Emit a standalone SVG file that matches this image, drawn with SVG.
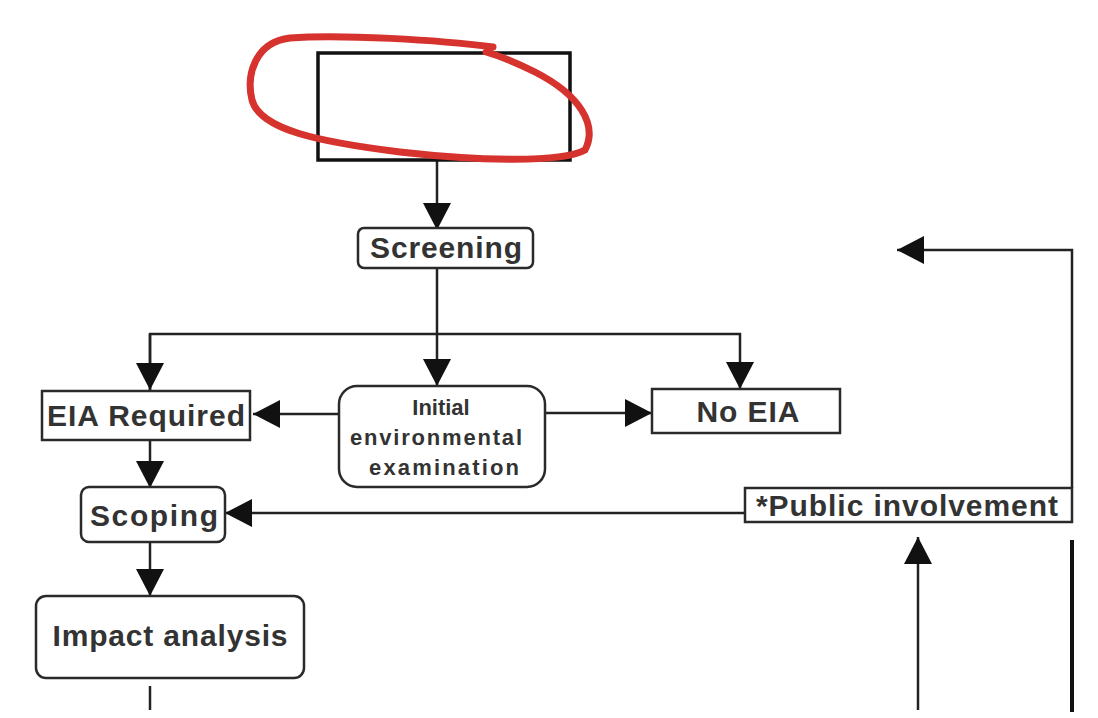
<svg xmlns="http://www.w3.org/2000/svg" width="1098" height="718" viewBox="0 0 1098 718">
<style>
.box{fill:#fff;stroke:#2a2a2a;stroke-width:2.5}
.lbl{font-family:"Liberation Sans",Arial,sans-serif;font-weight:bold;fill:#333;text-anchor:middle}
.big{font-size:30px}
.sm{font-size:22px}
.ln{fill:none;stroke:#222;stroke-width:2.5}
</style>
<defs>
<marker id="ah" markerUnits="userSpaceOnUse" markerWidth="30" markerHeight="30" refX="27" refY="14" orient="auto">
<path d="M0,0 L27,14 L0,28 Z" fill="#111"/>
</marker>
</defs>
<rect width="1098" height="718" fill="#fff"/>
<g id="connectors">
<line class="ln" x1="437" y1="160" x2="437" y2="230" marker-end="url(#ah)"/>
<line class="ln" x1="437" y1="268" x2="437" y2="386" marker-end="url(#ah)"/>
<polyline class="ln" points="150,390 150,334 740,334 740,389" marker-end="url(#ah)"/>
<line class="ln" x1="150" y1="334" x2="150" y2="390" marker-end="url(#ah)"/>
<line class="ln" x1="339" y1="414" x2="253" y2="414" marker-end="url(#ah)"/>
<line class="ln" x1="545" y1="413" x2="652" y2="413" marker-end="url(#ah)"/>
<line class="ln" x1="150" y1="440" x2="150" y2="488" marker-end="url(#ah)"/>
<line class="ln" x1="150" y1="542" x2="150" y2="596" marker-end="url(#ah)"/>
<line class="ln" x1="150" y1="686" x2="150" y2="710"/>
<line class="ln" x1="745" y1="513" x2="225" y2="513" marker-end="url(#ah)"/>
<polyline class="ln" points="1072,488 1072,250 897,250" marker-end="url(#ah)"/>
<line class="ln" x1="918" y1="710" x2="918" y2="537" marker-end="url(#ah)"/>
<line x1="1072" y1="540" x2="1072" y2="712" stroke="#111" stroke-width="4"/>
</g>
<g id="top-box">
<rect x="318" y="53" width="252" height="107" fill="none" stroke="#111" stroke-width="3.5"/>
</g>
<g id="screening">
<rect class="box" x="358" y="228" width="175" height="40" rx="6"/>
<text class="lbl big" x="446" y="258" textLength="152" lengthAdjust="spacing">Screening</text>
</g>
<g id="eia-required">
<rect class="box" x="42" y="391" width="208" height="49"/>
<text class="lbl big" x="146" y="426" textLength="198" lengthAdjust="spacing">EIA Required</text>
</g>
<g id="iee">
<rect class="box" x="339" y="386" width="206" height="101" rx="18"/>
<text class="lbl sm" x="441" y="415">Initial</text>
<text class="lbl sm" x="436" y="445" textLength="172" lengthAdjust="spacing">environmental</text>
<text class="lbl sm" x="444" y="475" textLength="150" lengthAdjust="spacing">examination</text>
</g>
<g id="no-eia">
<rect class="box" x="652" y="389" width="188" height="44"/>
<text class="lbl big" x="748" y="422" textLength="103" lengthAdjust="spacing">No EIA</text>
</g>
<g id="scoping">
<rect class="box" x="81" y="487" width="144" height="55" rx="8"/>
<text class="lbl big" x="154" y="526" textLength="128" lengthAdjust="spacing">Scoping</text>
</g>
<g id="impact-analysis">
<rect class="box" x="36" y="596" width="268" height="82" rx="10"/>
<text class="lbl big" x="170" y="646" textLength="235" lengthAdjust="spacing">Impact analysis</text>
</g>
<g id="public-involvement">
<rect class="box" x="745" y="488" width="327" height="34"/>
<text class="lbl big" x="907" y="516" textLength="302" lengthAdjust="spacing">*Public involvement</text>
</g>
<path d="M493,47 C440,40 340,34 290,38 C255,42 246,75 252,100 C260,130 320,142 400,152 C470,160 560,164 585,150 C598,125 580,95 535,72 C515,62 500,56 486,52" fill="none" stroke="#d6332e" stroke-width="7" stroke-linecap="round"/>
</svg>
